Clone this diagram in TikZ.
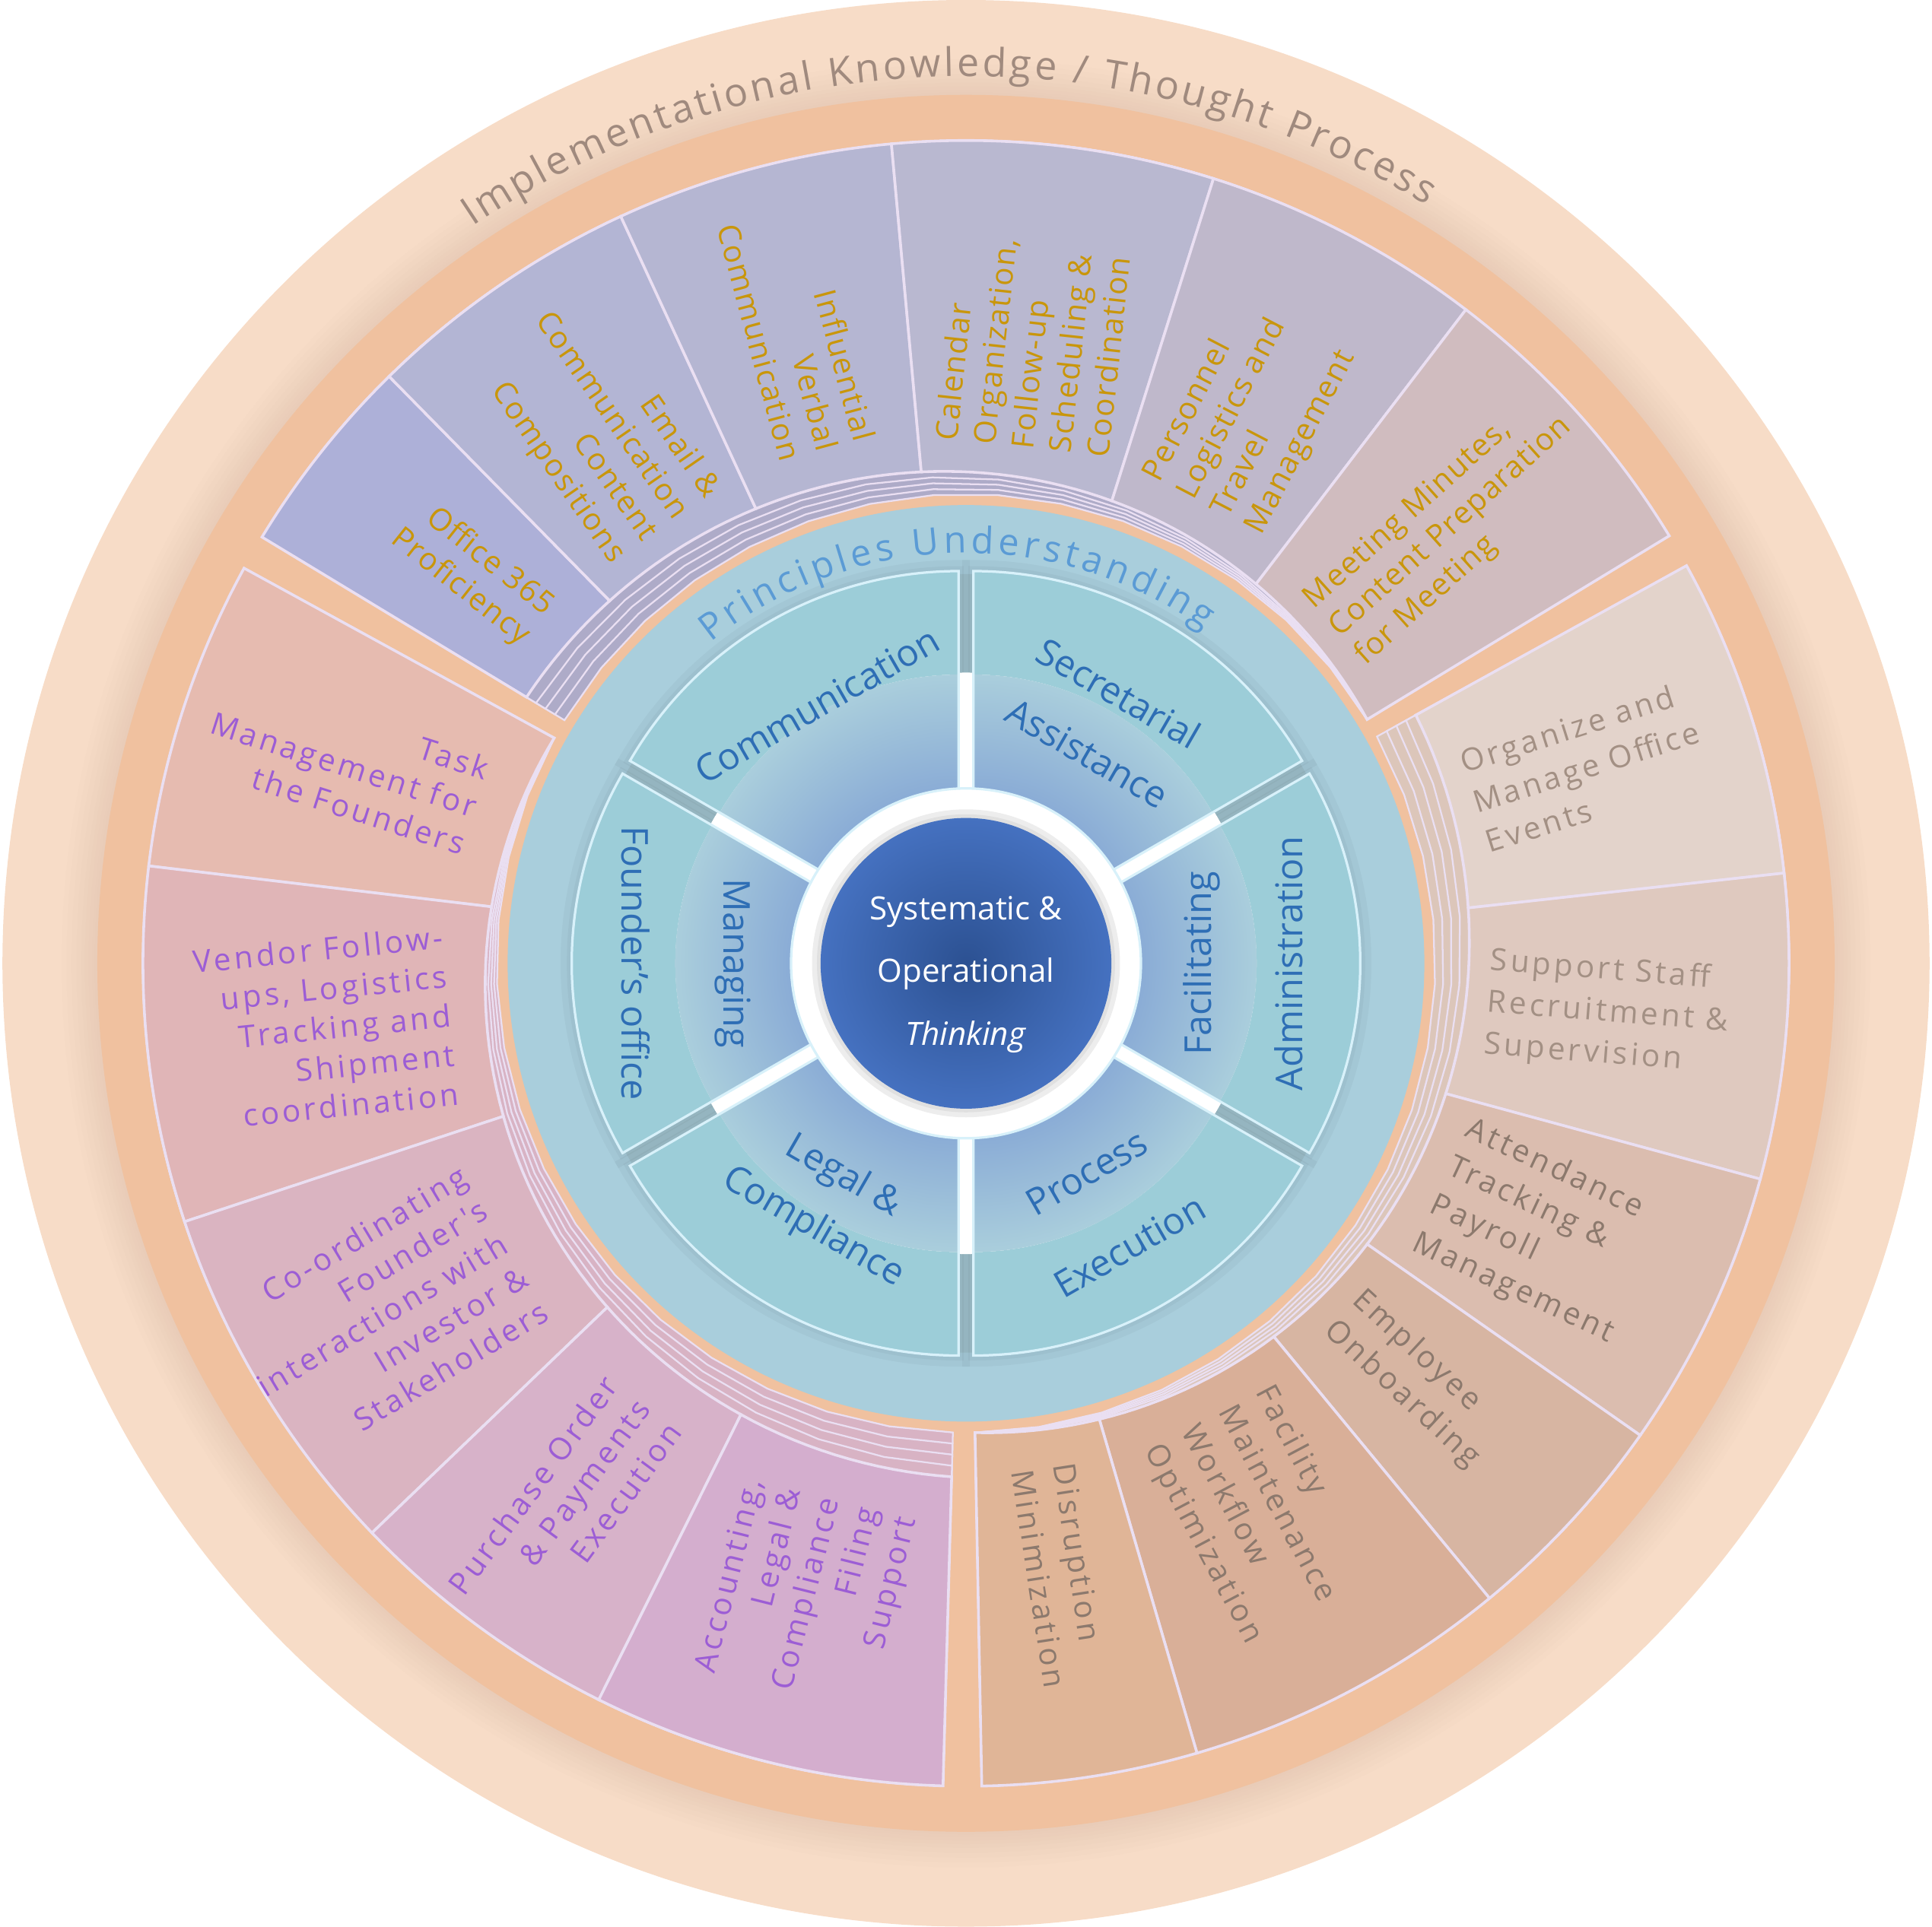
\documentclass[tikz,border=0pt]{standalone}
\usepackage{fontspec}
\setmainfont{Open Sans}
\newfontfamily\segfontT[LetterSpace=4]{Open Sans}
\newfontfamily\segfontW[LetterSpace=10]{Open Sans}
\usetikzlibrary{decorations.text}

\definecolor{peach}{HTML}{F7DCC7}
\definecolor{ringshadow}{HTML}{C9AB98}
\definecolor{orangering}{HTML}{F0C19F}
\definecolor{ringblue}{HTML}{A9CEDC}
\definecolor{gapblue}{HTML}{A0C2CE}
\definecolor{tealseg}{HTML}{9CCDD8}
\definecolor{tealline}{HTML}{D8F1FA}
\definecolor{innerA}{HTML}{5E7DCD}
\definecolor{innerB}{HTML}{AACEDC}
\definecolor{centerIn}{HTML}{2C5192}
\definecolor{centerOut}{HTML}{4571C0}
\definecolor{tealtext}{HTML}{2E6EB5}
\definecolor{princtext}{HTML}{5B9BD5}
\definecolor{impltext}{HTML}{A08A7E}
\definecolor{segline}{HTML}{EADFF2}
\definecolor{gold}{HTML}{C9960B}
\definecolor{graytext}{HTML}{A39084}
\definecolor{browntext}{HTML}{8C796D}
\definecolor{purpletext}{HTML}{9C5DD5}
\definecolor{stTop}{HTML}{AEABC8}
\definecolor{stRight}{HTML}{DCC6BA}
\definecolor{stLeft}{HTML}{D8B3C4}
\definecolor{sA}{HTML}{ADB0D8}
\definecolor{sB}{HTML}{B3B5D4}
\definecolor{sC}{HTML}{B5B6D2}
\definecolor{sD}{HTML}{B9B8D0}
\definecolor{sE}{HTML}{BFB8CB}
\definecolor{sF}{HTML}{D0BCBF}
\definecolor{sG}{HTML}{E3D3CB}
\definecolor{sH}{HTML}{DFC9BF}
\definecolor{sI}{HTML}{DBBDAF}
\definecolor{sJ}{HTML}{D7B5A2}
\definecolor{sK}{HTML}{D9AF98}
\definecolor{sL}{HTML}{E0B597}
\definecolor{sM}{HTML}{E6BBB0}
\definecolor{sN}{HTML}{E0B5B7}
\definecolor{sO}{HTML}{DAB4C1}
\definecolor{sP}{HTML}{D7B2C9}
\definecolor{sQ}{HTML}{D4AECE}

% outer segment: [style]{a1}{a2}{far end angle}{span}{amplitude}
\newcommand\seg[6][]{\path[#1] plot[domain=#2:#3, samples=16] (\x:{381+#6*(\x-(#4))/(#5)}) -- (#3:668) arc[start angle=#3, end angle=#2, radius=668] -- cycle;}

\begin{document}
\begin{tikzpicture}[x=0.5pt, y=0.5pt,
  seg/.style={draw=segline, line width=1.1pt},
  stackst/.style={draw=segline, line width=0.7pt},
  outRT/.style={anchor=west, align=left, inner sep=0pt, font=\segfontT\fontsize{12.5}{15.5}\selectfont},
  outLT/.style={anchor=east, align=right, inner sep=0pt, font=\segfontT\fontsize{12.5}{15.5}\selectfont},
  outR/.style={anchor=west, align=left, inner sep=0pt, font=\segfontW\fontsize{12.5}{17}\selectfont},
  outL/.style={anchor=east, align=right, inner sep=0pt, font=\segfontW\fontsize{12.5}{16}\selectfont},
  inlab/.style={text=tealtext, inner sep=0pt, font=\fontsize{15}{18}\selectfont}]
\useasboundingbox (-784,-782) rectangle (784,782);

% outer rings
\fill[peach] (0,0) circle (782);
\foreach \r in {734,730,726,722,718,715,712,709,707}{
  \fill[ringshadow, opacity=0.028] (0,0) circle (\r);
}
\fill[orangering] (0,0) circle (705);
\fill[ringblue] (0,0) circle (372);

% stacks
\foreach \k in {0,9,18,27}{
  \seg[stackst, fill=stTop]{31.3}{148.8}{31.3}{117.5}{\k}
  \seg[stackst, fill=stRight]{-88.9}{28.9}{-88.9}{117.8}{\k}
  \seg[stackst, fill=stLeft]{151.3}{268.4}{151.3}{117.1}{\k}
}

% top group
\seg[seg, fill=sA]{134.5}{148.8}{31.3}{117.5}{36}
\seg[seg, fill=sB]{114.8}{134.5}{31.3}{117.5}{36}
\seg[seg, fill=sC]{95.2}{114.8}{31.3}{117.5}{36}
\seg[seg, fill=sD]{72.5}{95.2}{31.3}{117.5}{36}
\seg[seg, fill=sE]{52.6}{72.5}{31.3}{117.5}{36}
\seg[seg, fill=sF]{31.3}{52.6}{31.3}{117.5}{36}
% right group
\seg[seg, fill=sG]{6.3}{28.9}{-88.9}{117.8}{36}
\seg[seg, fill=sH]{-15.2}{6.3}{-88.9}{117.8}{36}
\seg[seg, fill=sI]{-35.0}{-15.2}{-88.9}{117.8}{36}
\seg[seg, fill=sJ]{-50.5}{-35.0}{-88.9}{117.8}{36}
\seg[seg, fill=sK]{-73.7}{-50.5}{-88.9}{117.8}{36}
\seg[seg, fill=sL]{-88.9}{-73.7}{-88.9}{117.8}{36}
% left group
\seg[seg, fill=sM]{151.3}{173.2}{151.3}{117.1}{36}
\seg[seg, fill=sN]{173.2}{198.3}{151.3}{117.1}{36}
\seg[seg, fill=sO]{198.3}{223.8}{151.3}{117.1}{36}
\seg[seg, fill=sP]{223.8}{243.5}{151.3}{117.1}{36}
\seg[seg, fill=sQ]{243.5}{268.4}{151.3}{117.1}{36}

% outer texts
\node[outLT, rotate=321.65, text=gold] (o1) at (141.65:443) {Office 365\\Proficiency};
\node[outLT, rotate=304.65, text=gold] (o2) at (124.65:430) {Email \&\\Communication\\Content\\Compositions};
\node[outLT, rotate=285, text=gold] (o3) at (105:431) {Influential\\Verbal\\Communication};
\node[outRT, rotate=83.85, text=gold] (o4) at (83.85:420) {Calendar\\Organization,\\Follow-up\\Scheduling \&\\Coordination};
\node[outRT, rotate=62.55, text=gold] (o5) at (62.55:418) {Personnel\\Logistics and\\Travel\\Management};
\node[outRT, rotate=41.95, text=gold] (o6) at (41.95:402) {Meeting Minutes,\\Content Preparation\\for Meeting};
\node[outR, rotate=17.6, text=graytext] (o7) at (17.6:432) {Organize and\\Manage Office\\Events};
\node[outR, rotate=-4.45, text=graytext] (o8) at (-4.45:424) {Support Staff\\Recruitment \&\\Supervision};
\node[outR, rotate=-25.1, text=browntext] (o9) at (-25.1:425) {Attendance\\Tracking \&\\Payroll\\Management};
\node[outR, rotate=-42.75, text=browntext] (o10) at (-42.75:416) {Employee\\Onboarding};
\node[outR, rotate=-62.1, text=browntext] (o11) at (-62.1:417) {Facility\\Maintenance\\Workflow\\Optimization};
\node[outR, rotate=-81.3, text=browntext] (o12) at (-81.3:413) {Disruption\\Minimization};
\node[outL, rotate=342.25, text=purpletext] (o13) at (162.25:417) {Task\\Management for\\the Founders};
\node[outL, rotate=5.75, text=purpletext] (o14) at (185.75:420) {Vendor Follow-\\ups, Logistics\\Tracking and\\Shipment\\coordination};
\node[outL, rotate=31.05, text=purpletext] (o15) at (211.05:437) {Co-ordinating\\Founder's\\interactions with\\Investor \&\\Stakeholders};
\node[outL, rotate=53.65, text=purpletext] (o16) at (233.65:443) {Purchase Order\\\& Payments\\Execution};
\node[outL, rotate=75.95, text=purpletext] (o17) at (255.95:448) {Accounting,\\Legal \&\\Compliance\\Filing\\Support};

% inner area
\fill[gapblue] (0,0) circle (316);
\foreach \a in {120,60,0,-60,-120,180}{
  \pgfmathsetmacro\aL{\a-30}
  \pgfmathsetmacro\aR{\a+30}
  \begin{scope}[shift={(\a:12)}]
    \path[draw=black, opacity=0.03, line width=9pt] (\aL:150) -- (\aL:308) arc[start angle=\aL, end angle=\aR, radius=308] -- (\aR:150);
    \path[draw=black, opacity=0.03, line width=4pt] (\aL:150) -- (\aL:308) arc[start angle=\aL, end angle=\aR, radius=308] -- (\aR:150);
  \end{scope}
}
\fill[white] (0,0) circle (236);
\foreach \a in {120,60,0,-60,-120,180}{
  \pgfmathsetmacro\aL{\a-30}
  \pgfmathsetmacro\aR{\a+30}
  \begin{scope}[shift={(\a:12)}]
    \fill[tealseg] (\aL:224) arc[start angle=\aL, end angle=\aR, radius=224] -- (\aR:308) arc[start angle=\aR, end angle=\aL, radius=308] -- cycle;
    \begin{scope}
      \clip (0,0) -- (\aL:224) arc[start angle=\aL, end angle=\aR, radius=224] -- cycle;
      \shade[inner color=innerA, outer color=innerB] (0,0) circle (224);
    \end{scope}
    \draw[tealline, line width=1pt] (\aL:100) -- (\aL:308) arc[start angle=\aL, end angle=\aR, radius=308] -- (\aR:100);
  \end{scope}
}

% white ring and core
\fill[white] (0,0) circle (142);
\draw[tealline, line width=1pt] (0,0) circle (142);
\fill[black, opacity=0.07] (0,0) circle (125);
\fill[black, opacity=0.05] (0,0) circle (121);
\shade[inner color=centerIn, outer color=centerOut] (0,0) circle (118);
\node[align=center, text=white, font=\fontsize{13}{25.5}\selectfont] (core) at (0,-9) {Systematic \&\\Operational\\\textit{Thinking}};

% inner labels
\node[inlab, rotate=30] (comm) at (120:242) {Communication};
\node[inlab, rotate=-30] (secr) at (60.5:252) {Secretarial};
\node[inlab, rotate=-30] (assi) at (60:197) {Assistance};
\node[inlab, rotate=90] (admi) at (0:262) {Administration};
\node[inlab, rotate=90] (faci) at (0:191) {Facilitating};
\node[inlab, rotate=30] (exec) at (-60:265) {Execution};
\node[inlab, rotate=30] (proc) at (-60:196) {Process};
\node[inlab, rotate=-30] (comp) at (240:248) {Compliance};
\node[inlab, rotate=-30] (legal) at (240:200) {Legal \&};
\node[inlab, rotate=-90] (foun) at (180:268) {Founder's office};
\node[inlab, rotate=-90] (mana) at (180:189) {Managing};

% arc texts
\path[decorate, decoration={text along path, text={|\fontsize{15}{18}\selectfont|Principles Understanding}, text align={fit to path}, text color=princtext}] (128.5:333) arc[start angle=128.5, end angle=54.5, radius=333];
\path[decorate, decoration={text along path, text={|\fontsize{16}{19}\selectfont|Implementational Knowledge / Thought Process}, text align={fit to path}, text color=impltext}] (123.8:720) arc[start angle=123.8, end angle=58.8, radius=720];
\end{tikzpicture}
\end{document}
